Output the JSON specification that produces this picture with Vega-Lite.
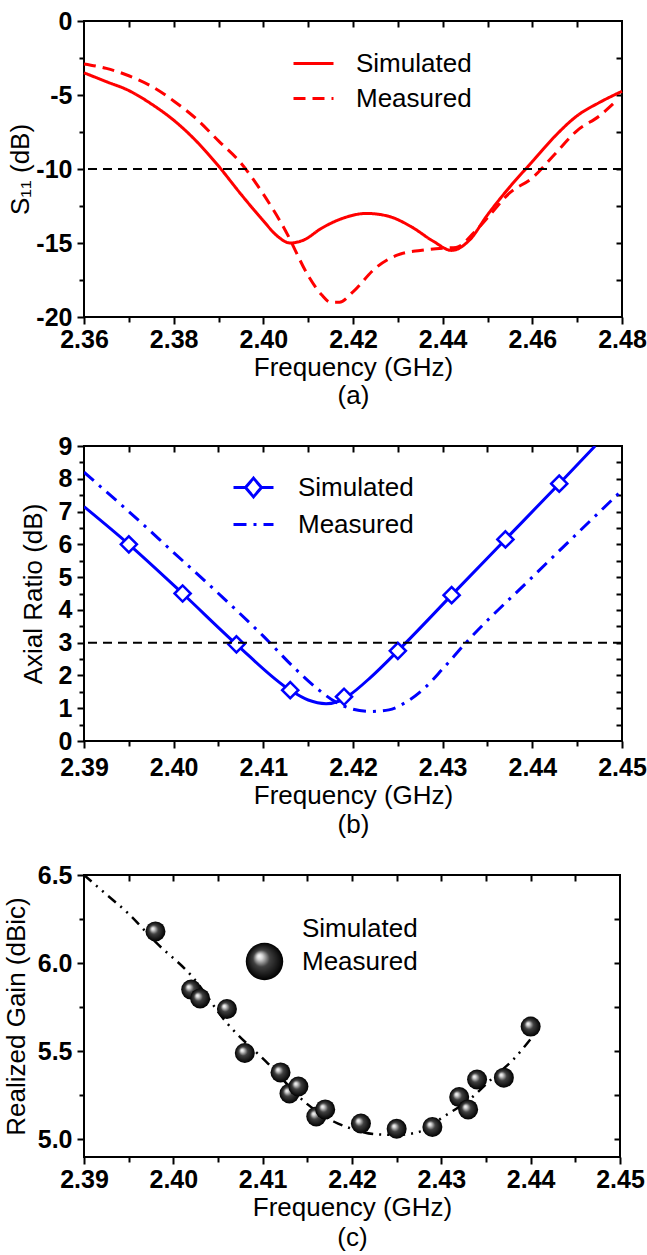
{
  "$schema": "https://vega.github.io/schema/vega-lite/v6.json",
  "background": "white",
  "padding": {"left": 2, "top": 8, "right": 0, "bottom": 0},
  "datasets": {
    "a": [
      {"freq": 2.36, "val": -3.5, "sa": "Simulated"},
      {"freq": 2.365, "val": -4.1, "sa": "Simulated"},
      {"freq": 2.37, "val": -4.7, "sa": "Simulated"},
      {"freq": 2.375, "val": -5.6, "sa": "Simulated"},
      {"freq": 2.38, "val": -6.7, "sa": "Simulated"},
      {"freq": 2.385, "val": -8.1, "sa": "Simulated"},
      {"freq": 2.39, "val": -9.8, "sa": "Simulated"},
      {"freq": 2.395, "val": -11.7, "sa": "Simulated"},
      {"freq": 2.40, "val": -13.5, "sa": "Simulated"},
      {"freq": 2.403, "val": -14.5, "sa": "Simulated"},
      {"freq": 2.406, "val": -15.0, "sa": "Simulated"},
      {"freq": 2.409, "val": -14.8, "sa": "Simulated"},
      {"freq": 2.413, "val": -14.0, "sa": "Simulated"},
      {"freq": 2.418, "val": -13.3, "sa": "Simulated"},
      {"freq": 2.423, "val": -13.0, "sa": "Simulated"},
      {"freq": 2.428, "val": -13.2, "sa": "Simulated"},
      {"freq": 2.433, "val": -13.9, "sa": "Simulated"},
      {"freq": 2.438, "val": -14.9, "sa": "Simulated"},
      {"freq": 2.442, "val": -15.5, "sa": "Simulated"},
      {"freq": 2.446, "val": -14.8, "sa": "Simulated"},
      {"freq": 2.45, "val": -13.1, "sa": "Simulated"},
      {"freq": 2.455, "val": -11.2, "sa": "Simulated"},
      {"freq": 2.46, "val": -9.5, "sa": "Simulated"},
      {"freq": 2.465, "val": -7.8, "sa": "Simulated"},
      {"freq": 2.47, "val": -6.4, "sa": "Simulated"},
      {"freq": 2.475, "val": -5.5, "sa": "Simulated"},
      {"freq": 2.48, "val": -4.75, "sa": "Simulated"},
      {"freq": 2.36, "val": -2.9, "sa": "Measured"},
      {"freq": 2.365, "val": -3.2, "sa": "Measured"},
      {"freq": 2.37, "val": -3.7, "sa": "Measured"},
      {"freq": 2.375, "val": -4.4, "sa": "Measured"},
      {"freq": 2.38, "val": -5.4, "sa": "Measured"},
      {"freq": 2.385, "val": -6.6, "sa": "Measured"},
      {"freq": 2.39, "val": -8.1, "sa": "Measured"},
      {"freq": 2.395, "val": -9.6, "sa": "Measured"},
      {"freq": 2.40, "val": -11.7, "sa": "Measured"},
      {"freq": 2.405, "val": -14.2, "sa": "Measured"},
      {"freq": 2.41, "val": -17.2, "sa": "Measured"},
      {"freq": 2.413, "val": -18.5, "sa": "Measured"},
      {"freq": 2.415, "val": -19.0, "sa": "Measured"},
      {"freq": 2.417, "val": -19.0, "sa": "Measured"},
      {"freq": 2.42, "val": -18.3, "sa": "Measured"},
      {"freq": 2.425, "val": -16.7, "sa": "Measured"},
      {"freq": 2.43, "val": -15.8, "sa": "Measured"},
      {"freq": 2.435, "val": -15.5, "sa": "Measured"},
      {"freq": 2.44, "val": -15.35, "sa": "Measured"},
      {"freq": 2.443, "val": -15.3, "sa": "Measured"},
      {"freq": 2.447, "val": -14.3, "sa": "Measured"},
      {"freq": 2.45, "val": -13.3, "sa": "Measured"},
      {"freq": 2.455, "val": -11.6, "sa": "Measured"},
      {"freq": 2.46, "val": -10.6, "sa": "Measured"},
      {"freq": 2.465, "val": -9.0, "sa": "Measured"},
      {"freq": 2.47, "val": -7.4, "sa": "Measured"},
      {"freq": 2.475, "val": -6.4, "sa": "Measured"},
      {"freq": 2.478, "val": -5.6, "sa": "Measured"}
    ],
    "bs": [
      {"freq": 2.39, "val": 7.15, "sb": "Simulated AR"},
      {"freq": 2.395, "val": 6.0, "sb": "Simulated AR"},
      {"freq": 2.401, "val": 4.5, "sb": "Simulated AR"},
      {"freq": 2.407, "val": 2.95, "sb": "Simulated AR"},
      {"freq": 2.413, "val": 1.55, "sb": "Simulated AR"},
      {"freq": 2.415, "val": 1.25, "sb": "Simulated AR"},
      {"freq": 2.417, "val": 1.14, "sb": "Simulated AR"},
      {"freq": 2.4185, "val": 1.22, "sb": "Simulated AR"},
      {"freq": 2.4195, "val": 1.38, "sb": "Simulated AR"},
      {"freq": 2.422, "val": 1.95, "sb": "Simulated AR"},
      {"freq": 2.425, "val": 2.75, "sb": "Simulated AR"},
      {"freq": 2.431, "val": 4.45, "sb": "Simulated AR"},
      {"freq": 2.437, "val": 6.15, "sb": "Simulated AR"},
      {"freq": 2.443, "val": 7.85, "sb": "Simulated AR"},
      {"freq": 2.447, "val": 9.0, "sb": "Simulated AR"}
    ],
    "bm": [
      {"freq": 2.39, "val": 8.2},
      {"freq": 2.395, "val": 7.0},
      {"freq": 2.40, "val": 5.75},
      {"freq": 2.405, "val": 4.5},
      {"freq": 2.41, "val": 3.2},
      {"freq": 2.4135, "val": 2.22},
      {"freq": 2.416, "val": 1.6},
      {"freq": 2.418, "val": 1.2},
      {"freq": 2.42, "val": 0.97},
      {"freq": 2.422, "val": 0.9},
      {"freq": 2.424, "val": 0.95},
      {"freq": 2.426, "val": 1.2},
      {"freq": 2.428, "val": 1.62},
      {"freq": 2.43, "val": 2.2},
      {"freq": 2.4326, "val": 3.0},
      {"freq": 2.44, "val": 5.0},
      {"freq": 2.45, "val": 7.65}
    ],
    "bd": [
      {"freq": 2.395, "val": 6.0},
      {"freq": 2.401, "val": 4.5},
      {"freq": 2.407, "val": 2.95},
      {"freq": 2.413, "val": 1.55},
      {"freq": 2.419, "val": 1.35},
      {"freq": 2.425, "val": 2.75},
      {"freq": 2.431, "val": 4.45},
      {"freq": 2.437, "val": 6.15},
      {"freq": 2.443, "val": 7.85}
    ],
    "c": [
      {"freq": 2.39, "val": 6.5},
      {"freq": 2.3925, "val": 6.39},
      {"freq": 2.395, "val": 6.28},
      {"freq": 2.398, "val": 6.12},
      {"freq": 2.402, "val": 5.93},
      {"freq": 2.406, "val": 5.66},
      {"freq": 2.4106, "val": 5.43},
      {"freq": 2.415, "val": 5.2},
      {"freq": 2.418, "val": 5.1},
      {"freq": 2.42, "val": 5.06},
      {"freq": 2.4225, "val": 5.03},
      {"freq": 2.425, "val": 5.025},
      {"freq": 2.428, "val": 5.05},
      {"freq": 2.43, "val": 5.12},
      {"freq": 2.433, "val": 5.22},
      {"freq": 2.436, "val": 5.36},
      {"freq": 2.438, "val": 5.45},
      {"freq": 2.44, "val": 5.57}
    ],
    "cm": [
      {"freq": 2.398, "val": 6.18, "sc": "Measured gain"},
      {"freq": 2.402, "val": 5.85, "sc": "Measured gain"},
      {"freq": 2.403, "val": 5.80, "sc": "Measured gain"},
      {"freq": 2.406, "val": 5.74, "sc": "Measured gain"},
      {"freq": 2.408, "val": 5.49, "sc": "Measured gain"},
      {"freq": 2.412, "val": 5.38, "sc": "Measured gain"},
      {"freq": 2.413, "val": 5.26, "sc": "Measured gain"},
      {"freq": 2.414, "val": 5.30, "sc": "Measured gain"},
      {"freq": 2.416, "val": 5.13, "sc": "Measured gain"},
      {"freq": 2.417, "val": 5.17, "sc": "Measured gain"},
      {"freq": 2.421, "val": 5.09, "sc": "Measured gain"},
      {"freq": 2.425, "val": 5.06, "sc": "Measured gain"},
      {"freq": 2.429, "val": 5.07, "sc": "Measured gain"},
      {"freq": 2.432, "val": 5.24, "sc": "Measured gain"},
      {"freq": 2.433, "val": 5.17, "sc": "Measured gain"},
      {"freq": 2.434, "val": 5.34, "sc": "Measured gain"},
      {"freq": 2.437, "val": 5.35, "sc": "Measured gain"},
      {"freq": 2.440, "val": 5.64, "sc": "Measured gain"}
    ],
    "ref_a": [{"val": -10}],
    "ref_b": [{"val": 3}]
  },
  "concat": [
    {
      "width": 538,
      "height": 296,
      "resolve": {"axis": {"x": "independent", "y": "independent"}},
      "layer": [
        {
          "data": {"name": "a"},
          "mark": {"type": "line", "color": "#ff0000", "strokeWidth": 3, "interpolate": "monotone"},
          "encoding": {
            "x": {"field": "freq", "type": "quantitative", "scale": {"domain": [2.36, 2.48], "nice": false, "zero": false},
              "axis": {"orient": "bottom", "values": [2.36, 2.38, 2.40, 2.42, 2.44, 2.46, 2.48], "format": ".2f", "labelPadding": 3, "title": ["Frequency (GHz)", "(a)"], "titlePadding": 2, "titleLineHeight": 28}},
            "y": {"field": "val", "type": "quantitative", "scale": {"domain": [-20, 0], "nice": false, "zero": false},
              "axis": {"orient": "left", "values": [-20, -15, -10, -5, 0], "labelExpr": "replace(datum.label, '−', '-')", "labelPadding": 5, "title": "S₁₁ (dB)", "titlePadding": 2}},
            "strokeDash": {"field": "sa", "type": "nominal",
              "scale": {"domain": ["Simulated", "Measured"], "range": [[1, 0], [12, 7]]},
              "legend": {"orient": "none", "legendX": 208, "legendY": 21, "title": null, "symbolType": "stroke", "symbolSize": 1600, "symbolStrokeWidth": 3, "symbolStrokeColor": "#ff0000", "labelOffset": 21, "rowPadding": -9}}
          }
        },
        {
          "data": {"name": "ref_a"},
          "mark": {"type": "rule", "color": "#000", "strokeWidth": 2, "strokeDash": [9, 6]},
          "encoding": {"y": {"field": "val", "type": "quantitative", "axis": null}}
        },
        {
          "data": {"name": "a"},
          "mark": {"type": "line", "opacity": 0},
          "encoding": {
            "x": {"field": "freq", "type": "quantitative", "axis": {"orient": "bottom", "values": [2.37, 2.39, 2.41, 2.43, 2.45, 2.47], "labels": false, "tickSize": 5, "title": null}},
            "y": {"field": "val", "type": "quantitative", "axis": {"orient": "left", "values": [-17.5, -12.5, -7.5, -2.5], "labels": false, "tickSize": 5, "title": null}},
            "detail": {"field": "sa"}
          }
        },
        {
          "data": {"name": "a"},
          "mark": {"type": "line", "opacity": 0},
          "encoding": {
            "x": {"field": "freq", "type": "quantitative", "axis": {"orient": "top", "values": [2.37, 2.38, 2.39, 2.40, 2.41, 2.42, 2.43, 2.44, 2.45, 2.46, 2.47], "labels": false, "tickSize": -6, "title": null}},
            "y": {"field": "val", "type": "quantitative", "axis": {"orient": "right", "values": [-17.5, -15, -12.5, -10, -7.5, -5, -2.5], "labels": false, "tickSize": -6, "title": null}},
            "detail": {"field": "sa"}
          }
        }
      ]
    },
    {
      "width": 538,
      "height": 295,
      "resolve": {"axis": {"x": "independent", "y": "independent"}},
      "layer": [
        {
          "data": {"name": "bs"},
          "mark": {"type": "line", "strokeWidth": 3, "interpolate": "monotone", "clip": true},
          "encoding": {
            "x": {"field": "freq", "type": "quantitative", "scale": {"domain": [2.39, 2.45], "nice": false, "zero": false},
              "axis": {"orient": "bottom", "values": [2.39, 2.40, 2.41, 2.42, 2.43, 2.44, 2.45], "format": ".2f", "labelPadding": 7, "title": ["Frequency (GHz)", "(b)"], "titlePadding": 2, "titleLineHeight": 29}},
            "y": {"field": "val", "type": "quantitative", "scale": {"domain": [0, 9], "nice": false, "zero": false},
              "axis": {"orient": "left", "values": [0, 1, 2, 3, 4, 5, 6, 7, 8, 9], "format": "d", "labelPadding": 5, "title": "Axial Ratio (dB)", "titlePadding": 12}},
            "color": {"field": "sb", "type": "nominal",
              "scale": {"domain": ["Simulated AR", "Measured AR"], "range": ["#0000ff", "#0000ff"]},
              "legend": {"orient": "none", "legendX": 148, "legendY": 445, "title": null, "symbolType": "stroke", "symbolSize": 1600, "symbolStrokeWidth": 3, "labelOffset": 23, "rowPadding": -13,
                "labelExpr": "split(datum.label, ' ')[0]",
                "encode": {"symbols": {"update": {
                  "shape": [{"test": "datum.value === 'Simulated AR'", "value": "M-1,0H-0.4L0,-0.47L0.4,0H1M-0.4,0L0,0.47L0.4,0"}, {"value": "stroke"}],
                  "strokeDash": [{"test": "datum.value === 'Measured AR'", "value": [13, 7, 3, 7]}, {"value": [1, 0]}],
                  "stroke": {"value": "#0000ff"},
                  "fill": {"value": "transparent"}
                }}}}}
          }
        },
        {
          "data": {"name": "bm"},
          "mark": {"type": "line", "color": "#0000ff", "strokeWidth": 3, "interpolate": "monotone", "strokeDash": [13, 7, 3, 7], "clip": true},
          "encoding": {
            "x": {"field": "freq", "type": "quantitative", "axis": null},
            "y": {"field": "val", "type": "quantitative", "axis": null}
          }
        },
        {
          "data": {"name": "bd"},
          "mark": {"type": "point", "shape": "diamond", "size": 260, "filled": true, "fill": "white", "stroke": "#0000ff", "strokeWidth": 2.5, "opacity": 1},
          "encoding": {
            "x": {"field": "freq", "type": "quantitative", "axis": null},
            "y": {"field": "val", "type": "quantitative", "axis": null}
          }
        },
        {
          "data": {"name": "ref_b"},
          "mark": {"type": "rule", "color": "#000", "strokeWidth": 2, "strokeDash": [9, 6]},
          "encoding": {"y": {"field": "val", "type": "quantitative", "axis": null}}
        },
        {
          "data": {"name": "bd"},
          "mark": {"type": "point", "opacity": 0},
          "encoding": {
            "x": {"field": "freq", "type": "quantitative", "axis": {"orient": "bottom", "values": [2.395, 2.405, 2.415, 2.425, 2.435, 2.445], "labels": false, "tickSize": 5, "title": null}},
            "y": {"field": "val", "type": "quantitative", "axis": {"orient": "left", "values": [0.5, 1.5, 2.5, 3.5, 4.5, 5.5, 6.5, 7.5, 8.5], "labels": false, "tickSize": 5, "title": null}}
          }
        },
        {
          "data": {"name": "bd"},
          "mark": {"type": "point", "opacity": 0},
          "encoding": {
            "x": {"field": "freq", "type": "quantitative", "axis": {"orient": "top", "values": [2.395, 2.40, 2.405, 2.41, 2.415, 2.42, 2.425, 2.43, 2.435, 2.44, 2.445], "labels": false, "tickSize": -6, "title": null}},
            "y": {"field": "val", "type": "quantitative", "axis": {"orient": "right", "values": [0.5, 1, 1.5, 2, 2.5, 3, 3.5, 4, 4.5, 5, 5.5, 6, 6.5, 7, 7.5, 8, 8.5], "labels": false, "tickSize": -6, "title": null}}
          }
        }
      ]
    },
    {
      "width": 536,
      "height": 282,
      "resolve": {"axis": {"x": "independent", "y": "independent"}},
      "layer": [
        {
          "data": {"name": "c"},
          "mark": {"type": "line", "color": "#000", "strokeWidth": 2.5, "interpolate": "monotone", "strokeDash": [10, 6, 2, 6, 2, 6]},
          "encoding": {
            "x": {"field": "freq", "type": "quantitative", "scale": {"domain": [2.39, 2.45], "nice": false, "zero": false},
              "axis": {"orient": "bottom", "values": [2.39, 2.40, 2.41, 2.42, 2.43, 2.44, 2.45], "format": ".2f", "labelPadding": 3, "title": ["Frequency (GHz)", "(c)"], "titlePadding": 2, "titleLineHeight": 30}},
            "y": {"field": "val", "type": "quantitative", "scale": {"domain": [4.9, 6.5], "nice": false, "zero": false},
              "axis": {"orient": "left", "values": [5.0, 5.5, 6.0, 6.5], "format": ".1f", "labelPadding": 5, "title": "Realized Gain (dBic)", "titlePadding": 8}}
          }
        },
        {
          "data": {"name": "cm"},
          "mark": {"type": "point", "filled": true, "size": 400, "opacity": 1, "strokeWidth": 0,
            "fill": {"gradient": "radial", "x1": 0.35, "y1": 0.35, "r1": 0, "x2": 0.5, "y2": 0.5, "r2": 0.5, "stops": [{"offset": 0, "color": "#ffffff"}, {"offset": 0.15, "color": "#d8d8d8"}, {"offset": 0.45, "color": "#404040"}, {"offset": 1, "color": "#000000"}]}},
          "encoding": {
            "x": {"field": "freq", "type": "quantitative", "axis": null},
            "y": {"field": "val", "type": "quantitative", "axis": null},
            "shape": {"field": "sc", "type": "nominal",
              "scale": {"domain": ["Simulated gain", "Measured gain"], "range": ["stroke", "circle"]},
              "legend": {"orient": "none", "legendX": 161, "legendY": 888, "title": null, "symbolSize": 1400, "labelOffset": 18, "rowPadding": -12,
                "labelExpr": "split(datum.label, ' ')[0]",
                "encode": {"symbols": {"update": {
                  "shape": [{"test": "datum.value === 'Measured gain'", "value": "circle"}, {"value": "stroke"}],
                  "size": [{"test": "datum.value === 'Measured gain'", "value": 300}, {"value": 1400}],
                  "strokeWidth": [{"test": "datum.value === 'Measured gain'", "value": 0}, {"value": 3}],
                  "stroke": {"value": "#000"},
                  "strokeDash": [{"test": "datum.value === 'Measured gain'", "value": [1, 0]}, {"value": [10, 6, 2, 6, 2, 6]}],
                  "fill": [{"test": "datum.value === 'Measured gain'", "value": {"gradient": "radial", "x1": 0.35, "y1": 0.35, "r1": 0, "x2": 0.5, "y2": 0.5, "r2": 0.5, "stops": [{"offset": 0, "color": "#ffffff"}, {"offset": 0.15, "color": "#d8d8d8"}, {"offset": 0.45, "color": "#404040"}, {"offset": 1, "color": "#000000"}]}}, {"value": "transparent"}],
                  "opacity": {"value": 1},
                  "fillOpacity": {"value": 1}
                }}}}}
          }
        },
        {
          "data": {"name": "cm"},
          "mark": {"type": "point", "opacity": 0},
          "encoding": {
            "x": {"field": "freq", "type": "quantitative", "axis": {"orient": "bottom", "values": [2.395, 2.405, 2.415, 2.425, 2.435, 2.445], "labels": false, "tickSize": 5, "title": null}},
            "y": {"field": "val", "type": "quantitative", "axis": {"orient": "left", "values": [5.25, 5.75, 6.25], "labels": false, "tickSize": 5, "title": null}}
          }
        },
        {
          "data": {"name": "cm"},
          "mark": {"type": "point", "opacity": 0},
          "encoding": {
            "x": {"field": "freq", "type": "quantitative", "axis": {"orient": "top", "values": [2.395, 2.40, 2.405, 2.41, 2.415, 2.42, 2.425, 2.43, 2.435, 2.44, 2.445], "labels": false, "tickSize": -6, "title": null}},
            "y": {"field": "val", "type": "quantitative", "axis": {"orient": "right", "values": [5.0, 5.25, 5.5, 5.75, 6.0, 6.25], "labels": false, "tickSize": -6, "title": null}}
          }
        }
      ]
    }
  ],
  "columns": 1,
  "spacing": 24,
  "config": {
    "view": {"stroke": "#000", "strokeWidth": 2},
    "axis": {"domain": false, "grid": false, "ticks": true, "tickColor": "#000", "tickWidth": 2, "tickSize": 7,
      "labelFont": "Liberation Sans", "labelFontSize": 25, "labelFontWeight": "bold", "labelColor": "#000",
      "titleFont": "Liberation Sans", "titleFontSize": 26, "titleFontWeight": "normal", "titleColor": "#000",
      "labelFlush": false, "labelOverlap": false},
    "legend": {"labelFont": "Liberation Sans", "labelFontSize": 26, "labelColor": "#000", "padding": 0, "labelLimit": 300}
  }
}
